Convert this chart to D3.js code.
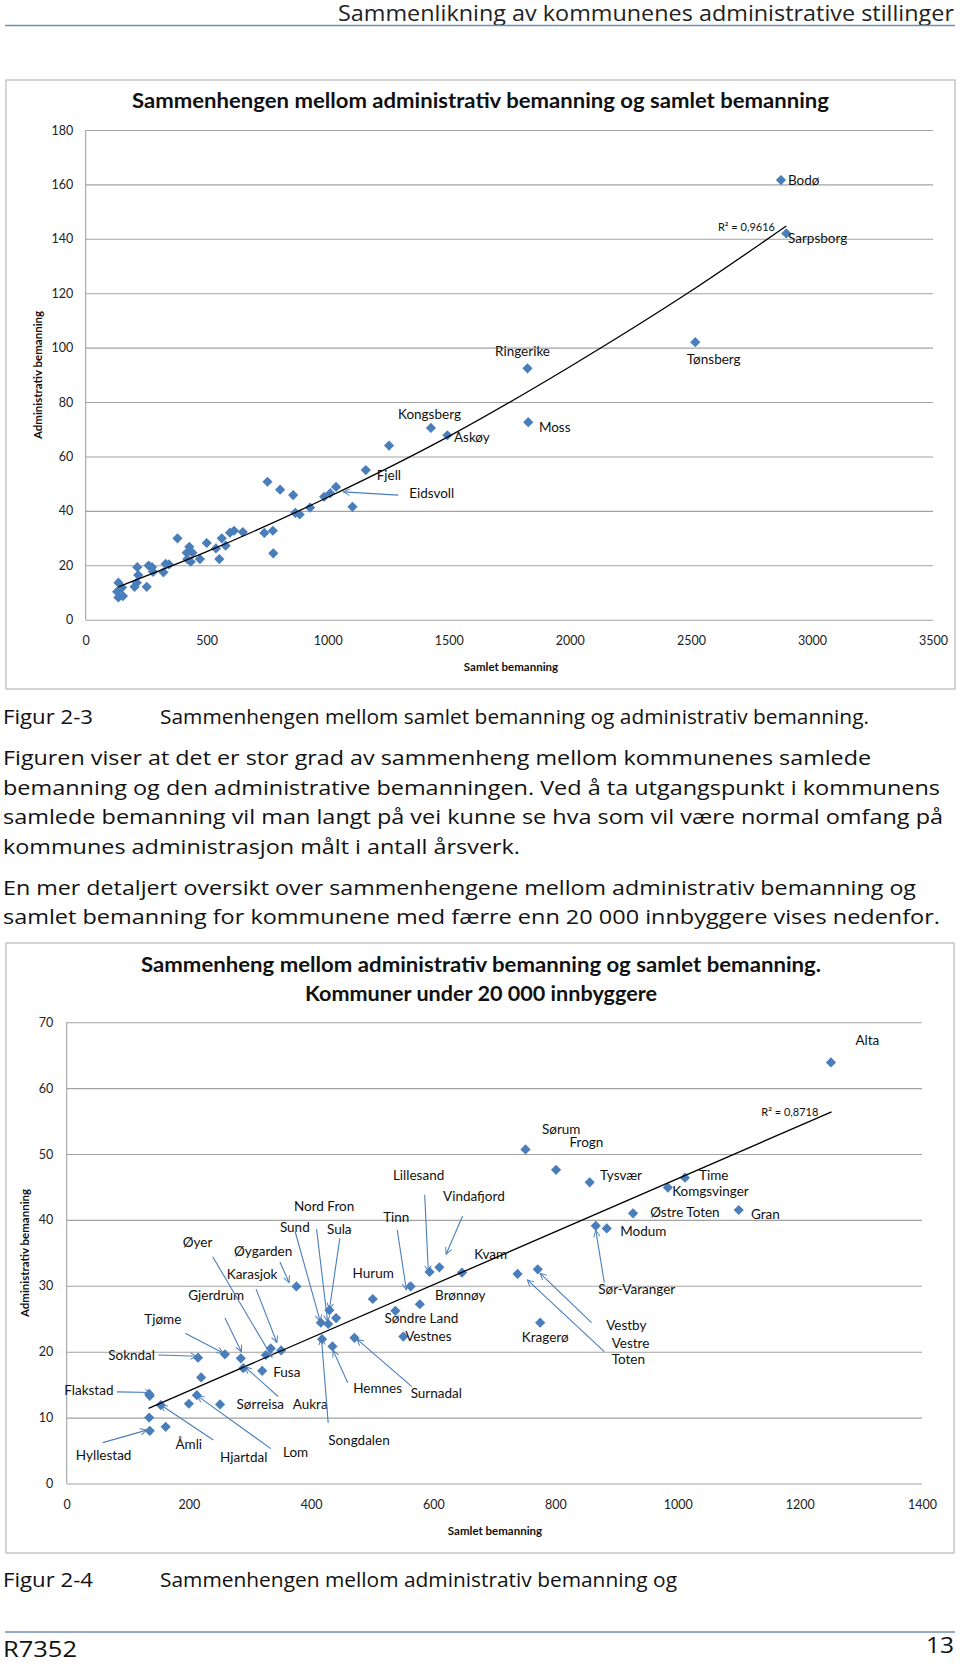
<!DOCTYPE html>
<html><head><meta charset="utf-8">
<script src="https://cdn.jsdelivr.net/npm/d3@7"></script>
<style>body{margin:0;background:#fff}svg{display:block}</style>
</head><body>
<script>
// ---------------- DATA ----------------
const headerText = "Sammenlikning av kommunenes administrative stillinger";
const title1 = ["Sammenhengen mellom administrativ bemanning og samlet bemanning"];
const title2 = ["Sammenheng mellom administrativ bemanning og samlet bemanning.", "Kommuner under 20 000 innbyggere"];
const yTitle = "Administrativ bemanning";
const xTitle = "Samlet bemanning";

const ticks1Y = [0,20,40,60,80,100,120,140,160,180];
const ticks1X = [0,500,1000,1500,2000,2500,3000,3500];
const ticks2Y = [0,10,20,30,40,50,60,70];
const ticks2X = [0,200,400,600,800,1000,1200,1400];

// Chart 1 : all municipalities
const samlet1 = [135,130,150,135,154,213,217,211,202,252,260,274,278,321,330,344,379,417,428,434,441,420,472,500,538,552,562,578,596,613,649,738,751,773,775,803,857,866,884,927,985,1010,1034,1102,1157,1253,1426,1494,1825,1828,2518,2872,2894];
const admin1  = [13.6,10.3,11.8,8.2,8.7,19.3,16.4,13.6,12.1,12.1,19.9,19.3,17.6,17.4,20.5,20.3,29.9,24.6,26.8,21.3,24.6,22.3,22.3,28.2,26.2,22.3,29.9,27.2,32.0,32.7,32.2,31.9,50.7,32.7,24.4,47.8,45.8,39.3,38.7,41.2,45.2,46.5,48.8,41.5,55.0,64.0,70.5,67.8,92.4,72.6,102,161.6,142.0];
const trend1X = [135,500,1000,1500,2000,2500,2894];
const trend1Y = [12.1,25.0,45.0,67.4,93.0,120.8,144.7];
const r2Text1 = "R² = 0,9616";
const r2Pos1 = [2847,142.9];
const labels1Name = ["Bodø","Sarpsborg","Ringerike","Tønsberg","Kongsberg","Askøy","Moss","Fjell","Eidsvoll"];
const labels1X = [2901,2901,1691,2483,1290,1521,1872,1202,1336];
const labels1Y = [159.6,138.3,97.1,94.1,73.6,65.4,69.1,51.5,44.8];
const arrows1From = [[1291,45.8]];
const arrows1To   = [[1064,47.0]];

// Chart 2 : municipalities under 20 000 inhabitants
const samlet2 = [135,136,154,135,136,162,200,213,220,251,215,259,285,289,320,326,334,351,376,416,428,430,441,418,435,471,501,538,551,563,578,594,610,647,738,771,775,751,801,856,866,884,927,984,1012,1100,1251];
const admin2  = [13.6,13.3,11.9,10.0,8.0,8.6,12.1,13.4,16.1,12.0,19.1,19.6,19.0,17.5,17.1,19.5,20.5,20.2,29.9,24.4,24.2,26.3,25.1,21.9,20.8,22.1,28.0,26.2,22.3,29.9,27.2,32.1,32.8,32.0,31.8,32.5,24.4,50.7,47.6,45.7,39.1,38.7,41.0,44.9,46.4,41.5,63.9];
const trend2X = [134,1252];
const trend2Y = [11.4,56.4];
const r2Text2 = "R² = 0,8718";
const r2Pos2 = [1137,55.7];
const labels2Name = ["Lillesand","Vindafjord","Nord Fron","Sund","Sula","Tinn","Hurum","Øyer","Øygarden","Karasjok","Gjerdrum","Tjøme","Sokndal","Flakstad","Fusa","Hemnes","Surnadal","Songdalen","Sørreisa","Aukra","Åmli","Hjartdal","Lom","Hyllestad","Brønnøy","Søndre Land","Vestnes","Kvam","Sørum","Frogn","Tysvær","Time","Komgsvinger","Østre Toten","Gran","Modum","Sør-Varanger","Vestby","Vestre","Toten","Kragerø","Alta"];
const labels2X = [534,616,372,349,426,518,468,190,274,262,199,127,68,-4,338,469,563,428,278,370,178,251,354,15,603,520,554,667,778,823,873,1035,991,955,1120,906,870,883,892,892,745,1291];
const labels2Y = [46.0,42.8,41.4,38.1,37.8,39.7,31.2,35.9,34.5,31.0,27.8,24.2,18.8,13.4,16.2,13.8,13.0,5.8,11.3,11.3,5.3,3.3,4.0,3.5,27.8,24.3,21.6,34.1,53.0,51.1,46.0,46.0,43.7,40.5,40.1,37.6,28.8,23.3,20.6,18.1,21.5,66.5];
const arrows2From = [[586,43.8],[648,40.6],[374,38.2],[447,37.2],[409,38.6],[541,38.5],[239,34.4],[349,33.6],[310,29.5],[259,25.1],[194,22.8],[150,19.5],[82,13.9],[460,15.3],[565,14.7],[428,9.2],[346,13.2],[240,6.6],[334,5.3],[59,6.2],[880,30.5],[859,24.4],[880,20.0]];
const arrows2To   = [[592,32.1],[621,34.8],[415,24.6],[430,26.4],[427,24.6],[556,29.4],[336,19.2],[364,30.5],[344,21.4],[286,20.0],[256,19.8],[213,19.3],[139,13.8],[436,20.2],[475,21.9],[417,22.0],[292,17.7],[154,11.9],[214,13.3],[131,8.1],[866,38.4],[775,31.9],[754,30.9]];

const caption1 = ["Figur 2-3","Sammenhengen mellom samlet bemanning og administrativ bemanning."];
const para1 = ["Figuren viser at det er stor grad av sammenheng mellom kommunenes samlede",
  "bemanning og den administrative bemanningen. Ved å ta utgangspunkt i kommunens",
  "samlede bemanning vil man langt på vei kunne se hva som vil være normal omfang på",
  "kommunes administrasjon målt i antall årsverk."];
const para2 = ["En mer detaljert oversikt over sammenhengene mellom administrativ bemanning og",
  "samlet bemanning for kommunene med færre enn 20 000 innbyggere vises nedenfor."];
const caption2 = ["Figur 2-4","Sammenhengen mellom administrativ bemanning og"];
const footer = ["R7352","13"];

// ---------------- STYLE ----------------
const W = 960, H = 1665;
const markerColor = "#4a7ebb";
const gridColor = "#a2a2a2";
const boxColor = "#b8b8b8";
const ruleColor = "#6f8fb3";
const chartFont = "Lato, 'Open Sans', sans-serif";
const bodyFont = "'Open Sans', Lato, sans-serif";

const svg = d3.select("body").append("svg").attr("width", W).attr("height", H);
svg.append("rect").attr("width", W).attr("height", H).attr("fill", "#fff");
svg.append("defs").append("marker")
  .attr("id","arr").attr("viewBox","0 0 10 10").attr("refX",9).attr("refY",5)
  .attr("markerWidth",8).attr("markerHeight",8).attr("markerUnits","userSpaceOnUse")
  .attr("orient","auto")
  .append("path").attr("d","M1,1 L9,5 L1,9").attr("fill","none")
  .attr("stroke",markerColor).attr("stroke-width",1.2);

// header
svg.append("text").attr("x",954).attr("y",21).attr("text-anchor","end")
  .attr("font-family",bodyFont).attr("font-size",21).attr("fill","#222")
  .attr("textLength",616).attr("lengthAdjust","spacingAndGlyphs").text(headerText);
svg.append("line").attr("x1",5).attr("x2",955).attr("y1",25.5).attr("y2",25.5)
  .attr("stroke",ruleColor).attr("stroke-width",1.5);

function bodyLine(txt, x, y, len, size) {
  svg.append("text").attr("x",x).attr("y",y).attr("font-family",bodyFont)
    .attr("font-size",size||20).attr("fill","#111")
    .attr("textLength",len).attr("lengthAdjust","spacingAndGlyphs").text(txt);
}

function drawChart(c) {
  const g = svg.append("g");
  g.append("rect").attr("x",c.box[0]).attr("y",c.box[1]).attr("width",c.box[2]-c.box[0])
    .attr("height",c.box[3]-c.box[1]).attr("fill","#fff").attr("stroke",boxColor).attr("stroke-width",1.2);
  c.titles.forEach((t,i) => g.append("text").attr("x",c.titleX).attr("y",c.titleY[i])
    .attr("text-anchor","middle").attr("font-family",chartFont).attr("font-weight","bold")
    .attr("font-size",20).attr("fill","#111").attr("textLength",c.titleLen[i])
    .attr("lengthAdjust","spacingAndGlyphs").text(t));
  const x = d3.scaleLinear().domain(c.xDomain).range(c.xRange);
  const y = d3.scaleLinear().domain(c.yDomain).range(c.yRange);
  const pw = c.xRange[1]-c.xRange[0];
  const ya = g.append("g").attr("transform",`translate(${c.xRange[0]},0)`)
    .call(d3.axisLeft(y).tickValues(c.yTicks).tickSize(-pw).tickPadding(c.yPad).tickFormat(d3.format("d")));
  ya.select(".domain").remove();
  ya.selectAll(".tick line").attr("stroke",gridColor).attr("stroke-width",1.1);
  ya.selectAll(".tick text").attr("font-family",chartFont).attr("font-size",12.5).attr("fill","#222");
  const xa = g.append("g").attr("transform",`translate(0,${c.yRange[0]})`)
    .call(d3.axisBottom(x).tickValues(c.xTicks).tickSize(0).tickPadding(c.xPad).tickFormat(d3.format("d")));
  xa.select(".domain").remove();
  xa.selectAll(".tick text").attr("font-family",chartFont).attr("font-size",12.5).attr("fill","#222");
  g.append("line").attr("x1",c.xRange[0]).attr("x2",c.xRange[0]).attr("y1",c.yRange[1]).attr("y2",c.yRange[0])
    .attr("stroke",gridColor).attr("stroke-width",1.1);
  // axis titles
  g.append("text").attr("transform",`translate(${c.yTitlePos[0]},${c.yTitlePos[1]}) rotate(-90)`)
    .attr("text-anchor","middle").attr("font-family",chartFont).attr("font-weight","bold")
    .attr("font-size",11.5).attr("fill","#111").text(yTitle);
  g.append("text").attr("x",c.xTitlePos[0]).attr("y",c.xTitlePos[1])
    .attr("text-anchor","middle").attr("font-family",chartFont).attr("font-weight","bold")
    .attr("font-size",11.5).attr("fill","#111").text(xTitle);
  // points
  const sym = d3.symbol(d3.symbolSquare, 52);
  g.append("g").selectAll("path").data(c.xs.map((v,i)=>[v,c.ys[i]])).join("path")
    .attr("d",sym).attr("fill",markerColor)
    .attr("transform",d=>`translate(${x(d[0])},${y(d[1])}) rotate(45)`);
  // trend
  const line = d3.line().x(d=>x(d[0])).y(d=>y(d[1])).curve(d3.curveMonotoneX);
  g.append("path").datum(c.tx.map((v,i)=>[v,c.ty[i]])).attr("d",line)
    .attr("fill","none").attr("stroke","#000").attr("stroke-width",1.3);
  g.append("text").attr("x",x(c.r2Pos[0])).attr("y",y(c.r2Pos[1])).attr("text-anchor",c.r2Anchor)
    .attr("font-family",chartFont).attr("font-size",11).attr("fill","#111").text(c.r2Text);
  // labels
  g.append("g").selectAll("text").data(c.lName).join("text")
    .attr("x",(d,i)=>x(c.lX[i])).attr("y",(d,i)=>y(c.lY[i]))
    .attr("font-family",chartFont).attr("font-size",13.5).attr("fill","#111").text(d=>d);
  // arrows
  g.append("g").selectAll("line").data(c.aFrom).join("line")
    .attr("x1",d=>x(d[0])).attr("y1",d=>y(d[1]))
    .attr("x2",(d,i)=>x(c.aTo[i][0])).attr("y2",(d,i)=>y(c.aTo[i][1]))
    .attr("stroke",markerColor).attr("stroke-width",1.1).attr("marker-end","url(#arr)");
}

drawChart({
  box:[6,80,955,689], titles:title1, titleX:480.5, titleY:[108], titleLen:[697],
  xDomain:[0,3500], xRange:[85.7,933], yDomain:[0,180], yRange:[619.7,130],
  yTicks:ticks1Y, xTicks:ticks1X, yPad:12.5, xPad:16,
  yTitlePos:[41.5,375], xTitlePos:[511,671],
  xs:samlet1, ys:admin1, tx:trend1X, ty:trend1Y,
  r2Pos:r2Pos1, r2Text:r2Text1, r2Anchor:"end",
  lName:labels1Name, lX:labels1X, lY:labels1Y, aFrom:arrows1From, aTo:arrows1To
});

drawChart({
  box:[6,943,954,1553], titles:title2, titleX:481, titleY:[972,1001], titleLen:[680,352],
  xDomain:[0,1400], xRange:[66.7,922], yDomain:[0,70], yRange:[1483.5,1022.2],
  yTicks:ticks2Y, xTicks:ticks2X, yPad:13.5, xPad:17,
  yTitlePos:[29,1253], xTitlePos:[495,1534.5],
  xs:samlet2, ys:admin2, tx:trend2X, ty:trend2Y,
  r2Pos:r2Pos2, r2Text:r2Text2, r2Anchor:"start",
  lName:labels2Name, lX:labels2X, lY:labels2Y, aFrom:arrows2From, aTo:arrows2To
});

// body text
bodyLine(caption1[0], 3, 724, 90);
bodyLine(caption1[1], 160, 724, 709);
const p1Len = [868,937,940,517];
para1.forEach((t,i)=>bodyLine(t, 3, 765 + i*29.5, p1Len[i]));
const p2Len = [913,937];
para2.forEach((t,i)=>bodyLine(t, 3, 895 + i*29, p2Len[i]));
bodyLine(caption2[0], 3, 1587, 90);
bodyLine(caption2[1], 160, 1587, 517);
svg.append("line").attr("x1",5).attr("x2",955).attr("y1",1632).attr("y2",1632)
  .attr("stroke",ruleColor).attr("stroke-width",1.5);
bodyLine(footer[0], 3, 1657, 74, 22);
svg.append("text").attr("x",954).attr("y",1653).attr("text-anchor","end")
  .attr("font-family",bodyFont).attr("font-size",22).attr("fill","#111")
  .attr("textLength",28).attr("lengthAdjust","spacingAndGlyphs").text(footer[1]);
</script>
</body></html>
